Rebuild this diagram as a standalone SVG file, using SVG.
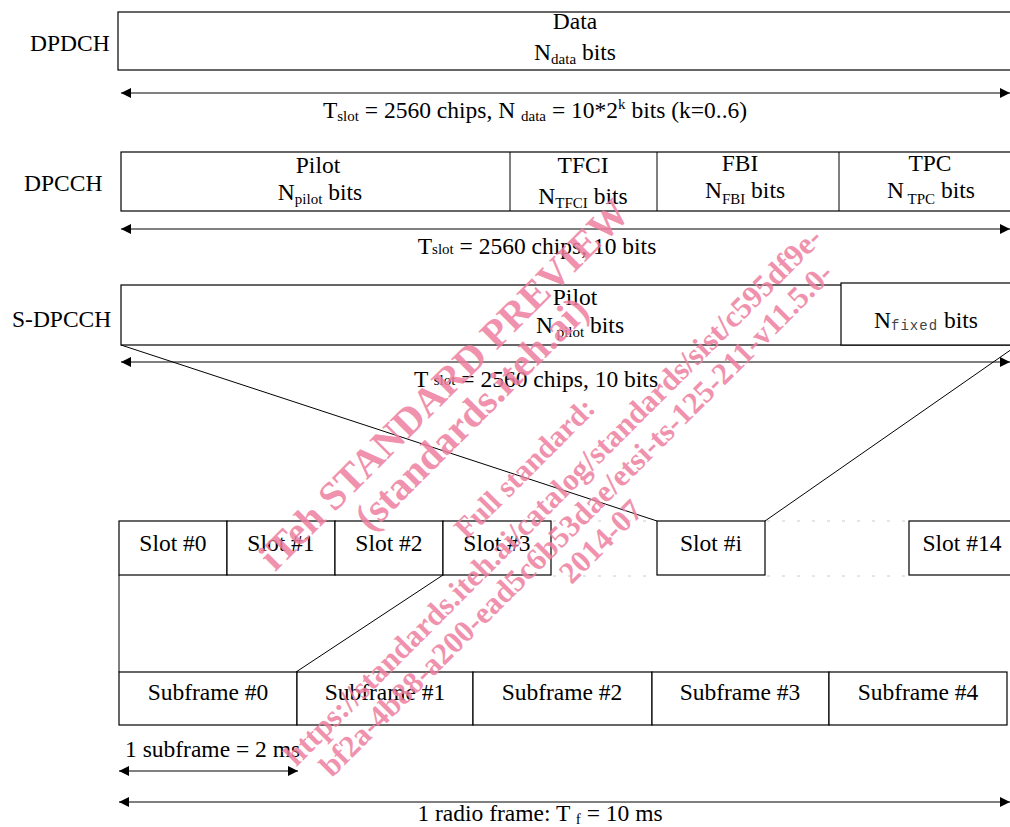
<svg xmlns="http://www.w3.org/2000/svg" width="1010" height="827" viewBox="0 0 1010 827">
<defs>
<style>
.t{font-family:"Liberation Serif","Times New Roman",serif;font-size:23.5px;fill:#000}
.c{text-anchor:middle}
.ln{stroke:#000;stroke-width:1;fill:none}
.box{fill:#fff;stroke:#000;stroke-width:1.2}
.dot{stroke:#ccc;stroke-width:1;stroke-dasharray:3 12;fill:none}
.mono{font-family:"Liberation Mono","Courier New",monospace;font-size:14px;fill:#444}
.wm{font-family:"Liberation Serif","Times New Roman",serif;font-weight:bold;fill:#ee7fa0;opacity:0.85;text-anchor:middle}
</style>
<marker id="ah" viewBox="0 0 10 10" refX="10" refY="5" markerWidth="11" markerHeight="10" markerUnits="userSpaceOnUse" orient="auto-start-reverse">
<path d="M0,0 L10,5 L0,10 z" fill="#000"/>
</marker>
</defs>
<rect width="1010" height="827" fill="#fff"/>

<g id="connectors">
<line class="ln" x1="121" y1="93" x2="1010" y2="93" marker-start="url(#ah)" marker-end="url(#ah)"/>
<line class="ln" x1="121" y1="229" x2="1010" y2="229" marker-start="url(#ah)" marker-end="url(#ah)" stroke="#333"/>
<line class="ln" x1="121" y1="362" x2="1010" y2="362" marker-start="url(#ah)" marker-end="url(#ah)"/>
<line class="ln" x1="121" y1="345" x2="657" y2="521"/>
<line class="ln" x1="1012" y1="349" x2="765" y2="521"/>
<line class="ln" x1="119" y1="575" x2="119" y2="672"/>
<line class="ln" x1="443" y1="575" x2="296" y2="672"/>
<line class="ln" x1="119" y1="771" x2="298" y2="771" marker-start="url(#ah)" marker-end="url(#ah)"/>
<line class="ln" x1="119" y1="802" x2="1010" y2="802" marker-start="url(#ah)" marker-end="url(#ah)"/>
<line class="dot" x1="553" y1="521" x2="655" y2="521"/>
<line class="dot" x1="767" y1="521" x2="907" y2="521"/>
<line class="dot" x1="553" y1="576" x2="655" y2="576"/>
<line class="dot" x1="767" y1="576" x2="907" y2="576"/>
</g>

<g id="dpdch">
<text class="t" x="30" y="51">DPDCH</text>
<rect class="box" x="118" y="12" width="900" height="58"/>
<text class="t c" x="575" y="29">Data</text>
<text class="t c" x="575" y="60">N<tspan font-size="15" dy="4">data</tspan><tspan dy="-4"> bits</tspan></text>
<text class="t c" x="535" y="118">T<tspan font-size="15" dy="3">slot</tspan><tspan dy="-3"> = 2560 chips, N </tspan><tspan font-size="15" dy="3">data</tspan><tspan dy="-3"> = 10*2</tspan><tspan font-size="15" dy="-9">k</tspan><tspan dy="9"> bits (k=0..6)</tspan></text>
</g>

<g id="dpcch">
<text class="t" x="24" y="191">DPCCH</text>
<rect class="box" x="121" y="152" width="900" height="59"/>
<line class="ln" x1="510" y1="152" x2="510" y2="211"/>
<line class="ln" x1="657" y1="152" x2="657" y2="211"/>
<line class="ln" x1="839" y1="152" x2="839" y2="211"/>
<text class="t c" x="318" y="173">Pilot</text>
<text class="t c" x="320" y="200">N<tspan font-size="15" dy="4">pilot</tspan><tspan dy="-4"> bits</tspan></text>
<text class="t c" x="583" y="173">TFCI</text>
<text class="t c" x="583" y="204">N<tspan font-size="15" dy="4">TFCI</tspan><tspan dy="-4"> bits</tspan></text>
<text class="t c" x="740" y="171">FBI</text>
<text class="t c" x="745" y="198">N<tspan font-size="15" dy="6">FBI</tspan><tspan dy="-6"> bits</tspan></text>
<text class="t c" x="930" y="171">TPC</text>
<text class="t c" x="931" y="198">N<tspan font-size="15" dy="6"> TPC</tspan><tspan dy="-6"> bits</tspan></text>
<text class="t c" x="537" y="254">T<tspan font-size="15">slot</tspan> = 2560 chips, 10 bits</text>
</g>

<g id="s-dpcch">
<text class="t" x="12" y="327">S-DPCCH</text>
<rect class="box" x="121" y="285" width="900" height="60" stroke="#444"/>
<rect class="box" x="841" y="283" width="180" height="62"/>
<text class="t c" x="575" y="305">Pilot</text>
<text class="t c" x="580" y="333">N<tspan font-size="15" dy="4"> pilot</tspan><tspan dy="-4">  bits</tspan></text>
<text class="t c" x="926" y="328">N<tspan class="mono" dy="2" letter-spacing="1">fixed</tspan><tspan dy="-2"> bits</tspan></text>
<text class="t c" x="536" y="387">T <tspan font-size="15" dy="-2">slot</tspan><tspan dy="2"> = 2560 chips, 10 bits</tspan></text>
</g>

<g id="slots">
<rect class="box" x="119" y="521" width="108" height="54"/>
<rect class="box" x="227" y="521" width="108" height="54"/>
<rect class="box" x="335" y="521" width="108" height="54"/>
<rect class="box" x="443" y="521" width="108" height="54"/>
<rect class="box" x="657" y="521" width="108" height="54"/>
<rect class="box" x="909" y="521" width="110" height="54"/>
<text class="t c" x="173" y="551">Slot #0</text>
<text class="t c" x="281" y="551">Slot #1</text>
<text class="t c" x="389" y="551">Slot #2</text>
<text class="t c" x="497" y="551">Slot #3</text>
<text class="t c" x="711" y="551">Slot #i</text>
<text class="t c" x="962" y="551">Slot #14</text>
</g>

<g id="subframes">
<rect class="box" x="119" y="672" width="178" height="53"/>
<rect class="box" x="297" y="672" width="176" height="53"/>
<rect class="box" x="473" y="672" width="179" height="53"/>
<rect class="box" x="652" y="672" width="177" height="53"/>
<rect class="box" x="829" y="672" width="178" height="53"/>
<text class="t c" x="208" y="700">Subframe #0</text>
<text class="t c" x="385" y="700">Subframe #1</text>
<text class="t c" x="562" y="700">Subframe #2</text>
<text class="t c" x="740" y="700">Subframe #3</text>
<text class="t c" x="918" y="700">Subframe #4</text>
<text class="t" x="125" y="757">1 subframe = 2 ms</text>
<text class="t c" x="540" y="821">1 radio frame: T <tspan font-size="15" dy="3">f</tspan><tspan dy="-3"> = 10 ms</tspan></text>
</g>

<g id="watermark" transform="rotate(-45)">
<text class="wm" x="42" y="599" font-size="40">iTeh STANDARD PREVIEW</text>
<text class="wm" x="41" y="639" font-size="40">(standards.iteh.ai)</text>
<text class="wm" x="40" y="712" font-size="30">Full standard:</text>
<text class="wm" x="40" y="752" font-size="31">https://standards.iteh.ai/catalog/standards/sist/c595df9e-</text>
<text class="wm" x="40" y="785" font-size="31">bf2a-4b88-a200-ead5c6b53dae/etsi-ts-125-211-v11.5.0-</text>
<text class="wm" x="42" y="818" font-size="31">2014-07</text>
</g>
</svg>
